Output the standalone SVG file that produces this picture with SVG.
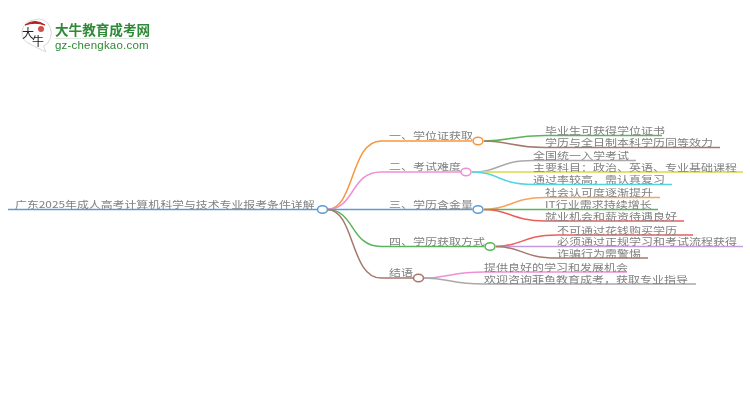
<svg xmlns="http://www.w3.org/2000/svg" width="750" height="410" viewBox="0 0 750 410">
<defs><filter id="soft" x="0" y="0" width="100%" height="100%"><feGaussianBlur stdDeviation="0.35"/></filter></defs>
<style>
text{font-family:"Noto Sans CJK SC","Liberation Sans",sans-serif;font-size:12px;fill:#808080}
.l{fill:none;stroke-width:1.5}
.n{fill:#fff;stroke-width:1.6}
</style>
<rect width="750" height="410" fill="#fff"/>
<g filter="url(#soft)">
<g id="logo">
<path d="M34 20A12.500 12.500 0 0 0 31 44.500C35 47 40 49 46 52L43.500 46A12.500 14 0 0 0 34 20Z" fill="#fff" stroke="#d8d8d8" stroke-width="1"/>
<path d="M25 25Q35 18 45 25Q35 21.500 25 25Z" fill="#b3201f" stroke="#b3201f" stroke-width="1"/>
<circle cx="41" cy="29" r="3" fill="#d0504c"/>
<text transform="translate(22,38)" style="font-size:12px;fill:#222">大</text>
<text transform="translate(32,46)" style="font-size:12px;fill:#222">牛</text>
<text x="55" y="35" style="font-size:13.600px;font-weight:700;fill:#2f8a37">大牛教育成考网</text>
<rect x="55" y="38" width="95" height="1" fill="#dfe8df"/>
<text x="55" y="49" style="font-size:11.500px;fill:#2f8a37;font-family:'Liberation Sans',sans-serif;letter-spacing:.2px">gz-chengkao.com</text>
</g>
<g id="connectors">
<path class="l" stroke="#5b9bd5" d="M8 209.500H317"/>
<path class="l" stroke="#f7953f" d="M327 209.500C355 209.500 350 141 381 141H472"/>
<path class="l" stroke="#ee8fd6" d="M327 209.500C355 209.500 350 172 381 172H461"/>
<path class="l" stroke="#5b9bd5" d="M327 209.500H472"/>
<path class="l" stroke="#5ab45a" d="M327 209.500C355 209.500 350 246.500 381 246.500H484"/>
<path class="l" stroke="#a5786c" d="M327 209.500C355 209.500 350 278 381 278H413"/>
<path class="l" stroke="#5ab45a" d="M484 141C510 141 512 135.500 545 135.500H662"/>
<path class="l" stroke="#a5786c" d="M484 141C510 141 512 147.500 545 147.500H720"/>
<path class="l" stroke="#a9a9a9" d="M472 172C500 172 498 160.500 533 160.500H636"/>
<path class="l" stroke="#d8d84a" d="M472 172H743"/>
<path class="l" stroke="#55d4e0" d="M472 172C500 172 498 184.500 533 184.500H672"/>
<path class="l" stroke="#f7a35c" d="M484 209.500C510 209.500 512 197.500 545 197.500H660"/>
<path class="l" stroke="#5ab45a" d="M484 209.500H658"/>
<path class="l" stroke="#e8605c" d="M484 209.500C510 209.500 512 221 545 221H684"/>
<path class="l" stroke="#e8605c" d="M496 246.500C522 246.500 522 235 557 235H693"/>
<path class="l" stroke="#c39bdc" d="M496 246.500H743"/>
<path class="l" stroke="#a5786c" d="M496 246.500C522 246.500 522 258 557 258H648"/>
<path class="l" stroke="#ee8fd6" d="M424 278C450 278 450 272 484 272H627"/>
<path class="l" stroke="#a9a9a9" d="M424 278C450 278 450 284 484 284H696"/>
</g>
<g id="root"><text transform="translate(15,207.500) scale(.99,.8)">广东2025年成人高考计算机科学与技术专业报考条件详解</text><ellipse class="n" cx="322.500" cy="209.500" rx="5" ry="3.800" stroke="#5b9bd5"/></g>
<g id="b1"><text transform="translate(389,139) scale(1,.8)">一、学位证获取</text><ellipse class="n" cx="478" cy="141" rx="5" ry="3.800" stroke="#f7953f"/></g>
<g id="b2"><text transform="translate(389,170) scale(1,.8)">二、考试难度</text><ellipse class="n" cx="466" cy="172" rx="5" ry="3.800" stroke="#ee8fd6"/></g>
<g id="b3"><text transform="translate(389,208) scale(1,.8)">三、学历含金量</text><ellipse class="n" cx="478" cy="209.500" rx="5" ry="3.800" stroke="#5b9bd5"/></g>
<g id="b4"><text transform="translate(389,245) scale(1,.8)">四、学历获取方式</text><ellipse class="n" cx="490" cy="246.500" rx="5" ry="3.800" stroke="#5ab45a"/></g>
<g id="b5"><text transform="translate(389,276) scale(1,.8)">结语</text><ellipse class="n" cx="418.500" cy="278" rx="5" ry="3.800" stroke="#a5786c"/></g>
<g id="t1"><text transform="translate(545,134) scale(1,.8)">毕业生可获得学位证书</text></g>
<g id="t2"><text transform="translate(545,146) scale(1,.8)">学历与全日制本科学历同等效力</text></g>
<g id="t3"><text transform="translate(533,159) scale(1,.8)">全国统一入学考试</text></g>
<g id="t4"><text transform="translate(533,170.500) scale(1,.8)">主要科目：政治、英语、专业基础课程</text></g>
<g id="t5"><text transform="translate(533,183) scale(1,.8)">通过率较高，需认真复习</text></g>
<g id="t6"><text transform="translate(545,196) scale(1,.8)">社会认可度逐渐提升</text></g>
<g id="t7"><text transform="translate(545,208) scale(1,.8)">IT行业需求持续增长</text></g>
<g id="t8"><text transform="translate(545,219.500) scale(1,.8)">就业机会和薪资待遇良好</text></g>
<g id="t9"><text transform="translate(557,233.500) scale(1,.8)">不可通过花钱购买学历</text></g>
<g id="t10"><text transform="translate(557,245) scale(1,.8)">必须通过正规学习和考试流程获得</text></g>
<g id="t11"><text transform="translate(557,256.500) scale(1,.8)">诈骗行为需警惕</text></g>
<g id="t12"><text transform="translate(484,270.500) scale(1,.8)">提供良好的学习和发展机会</text></g>
<g id="t13"><text transform="translate(484,282.500) scale(1,.8)">欢迎咨询菲鱼教育成考，获取专业指导</text></g>
</g>
</svg>
